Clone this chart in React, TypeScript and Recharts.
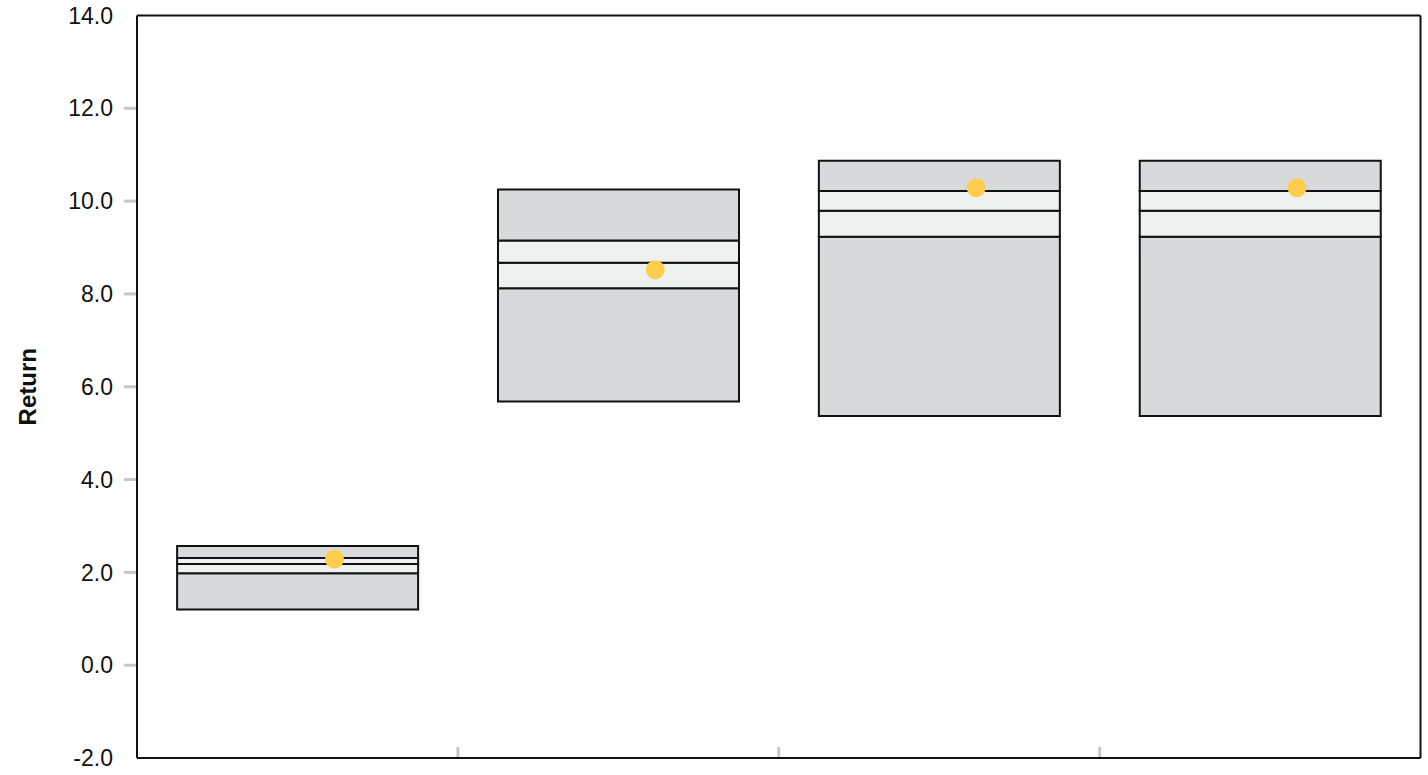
import React from "react";
import { ComposedChart, Bar, Scatter, XAxis, YAxis } from "recharts";

const categories = ["A", "B", "C", "D"];
const lowValues = [1.2, 5.68, 5.37, 5.37];
const q1Values = [1.98, 8.12, 9.23, 9.23];
const medianValues = [2.18, 8.67, 9.79, 9.79];
const q3Values = [2.31, 9.15, 10.22, 10.22];
const highValues = [2.57, 10.25, 10.87, 10.87];
const meanValues = [2.29, 8.52, 10.29, 10.29];
const yTicks = [-2, 0, 2, 4, 6, 8, 10, 12, 14];

const data = categories.map((c, i) => ({
  name: c,
  base: lowValues[i],
  s1: q1Values[i] - lowValues[i],
  s2: medianValues[i] - q1Values[i],
  s3: q3Values[i] - medianValues[i],
  s4: highValues[i] - q3Values[i],
  mean: meanValues[i],
}));

const FONT = "'Liberation Sans', Arial, Helvetica, sans-serif";
const GRAY = "#d8d9db";
const LIGHT = "#eff0f0";
const TICK_GRAY = "#c5c7ca";
const DOT = "#ffcd4d";
const DOT_SHIFT = 37;

const YTick = (props: any) => {
  const { x, y, payload } = props;
  const v = payload.value;
  const showLine = v !== yTicks[0] && v !== yTicks[yTicks.length - 1];
  return (
    <g>
      {showLine && (
        <line x1={x - 13} x2={x - 1} y1={y} y2={y} stroke={TICK_GRAY} strokeWidth={3} />
      )}
      <text
        x={x - 24}
        y={y}
        dy="0.355em"
        textAnchor="end"
        fontFamily={FONT}
        fontSize={23}
        fill="#111"
      >
        {Number(v).toFixed(1)}
      </text>
    </g>
  );
};

const XTick = (props: any) => {
  const { x, y, index, payload } = props;
  if (index >= categories.length - 1) return null;
  const half = payload && payload.offset ? payload.offset : 160.4;
  const lx = x + half;
  return <line x1={lx} x2={lx} y1={y - 1} y2={y - 11} stroke={TICK_GRAY} strokeWidth={3} />;
};

const YLabel = (props: any) => {
  const vb = props.viewBox || { x: 0, y: 0, width: 0, height: 0 };
  const cy = vb.y + vb.height / 2;
  const cx = 27;
  return (
    <text
      x={cx}
      y={cy}
      dy="0.355em"
      textAnchor="middle"
      transform={`rotate(-90, ${cx}, ${cy})`}
      fontFamily={FONT}
      fontSize={24}
      fontWeight="bold"
      fill="#111"
    >
      Return
    </text>
  );
};

const Dot = (props: any) => {
  const { cx, cy } = props;
  if (cx == null || cy == null) return null;
  return <circle cx={cx + DOT_SHIFT} cy={cy} r={9.5} fill={DOT} />;
};

export default function App() {
  return (
    <div style={{ position: "absolute", left: 0, top: 0 }}>
      <ComposedChart
        width={1428}
        height={775}
        data={data}
        margin={{ top: 14.5, right: 6.5, bottom: 16, left: 0 }}
        barCategoryGap="12.5%"
      >
        <XAxis
          dataKey="name"
          height={1}
          tickSize={0}
          tickMargin={0}
          interval={0}
          tick={<XTick />}
          tickLine={false}
          axisLine={{ stroke: "#111", strokeWidth: 2 }}
        />
        <XAxis
          xAxisId="top"
          dataKey="name"
          orientation="top"
          height={1}
          tick={false}
          tickLine={false}
          axisLine={{ stroke: "#111", strokeWidth: 2 }}
        />
        <YAxis
          domain={[-2, 14]}
          ticks={yTicks}
          interval={0}
          width={137}
          tickSize={0}
          tickMargin={0}
          tickLine={false}
          tick={<YTick />}
          axisLine={{ stroke: "#111", strokeWidth: 2 }}
          label={<YLabel />}
          allowDataOverflow
        />
        <YAxis
          yAxisId="right"
          orientation="right"
          domain={[-2, 14]}
          width={1}
          tick={false}
          tickLine={false}
          axisLine={{ stroke: "#111", strokeWidth: 2 }}
        />
        <Bar dataKey="base" stackId="a" fill="transparent" stroke="none" isAnimationActive={false} />
        <Bar dataKey="s1" stackId="a" fill={GRAY} stroke="#111" strokeWidth={2} isAnimationActive={false} />
        <Bar dataKey="s2" stackId="a" fill={LIGHT} stroke="#111" strokeWidth={2} isAnimationActive={false} />
        <Bar dataKey="s3" stackId="a" fill={LIGHT} stroke="#111" strokeWidth={2} isAnimationActive={false} />
        <Bar dataKey="s4" stackId="a" fill={GRAY} stroke="#111" strokeWidth={2} isAnimationActive={false} />
        <Scatter dataKey="mean" shape={<Dot />} isAnimationActive={false} />
      </ComposedChart>
    </div>
  );
}
